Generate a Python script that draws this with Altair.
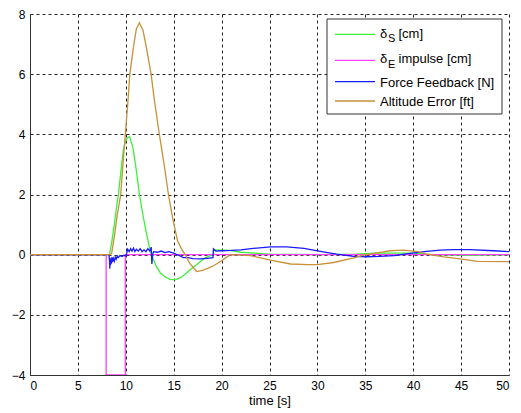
import altair as alt
import pandas as pd

# ---------------- data ----------------
series_names = ["δS [cm]", "δE impulse [cm]", "Force Feedback [N]", "Altitude Error [ft]"]
series_colors = ["#3cf03c", "#ff40ff", "#1a1aff", "#c8913a"]

# delta_S [cm]
ds_t = [0, 8.3, 8.5, 8.8, 9.0, 9.23, 9.5, 9.75, 10.05, 10.4, 10.75, 11.1, 11.42, 11.8, 12.1, 12.47,
        12.8, 13.2, 13.6, 14.0, 14.6, 15.2, 15.8, 16.7, 17.5, 18.2, 18.8, 19.15, 19.17, 20.9, 22,
        25, 30, 34, 36, 40, 42, 46, 50]
ds_v = [0, 0, 0.35, 1.0, 1.5, 2.0, 2.8, 3.5, 3.85, 3.93, 3.55, 2.8, 2.0, 1.3, 0.8, 0.24,
        -0.1, -0.4, -0.6, -0.72, -0.82, -0.83, -0.75, -0.51, -0.3, -0.12, -0.03, 0.0, 0.16, 0.14, 0.08,
        0.02, 0.0, 0.02, 0.05, 0.05, 0.0, -0.02, 0.0]

# delta_E impulse [cm]
de_t = [0, 7.95, 7.95, 9.95, 9.95, 50]
de_v = [0, 0, -4, -4, 0, 0]

# Force feedback [N]
ff_t = [0, 8.25, 8.3, 8.33, 8.36, 8.4, 8.45, 8.5, 8.55, 8.6, 8.7, 8.8, 8.9, 9.0, 9.1, 9.2, 9.4, 9.6,
        9.8, 10.0, 10.1, 10.2, 10.35, 10.5, 10.65, 10.8, 10.95, 11.1, 11.3, 11.5, 11.7, 11.9, 12.1,
        12.3, 12.5, 12.65, 12.72, 12.8, 12.9, 13.3, 13.7, 14.1, 14.5, 15.0, 15.5, 16.0, 16.5, 17.0,
        17.8, 18.5, 19.1, 19.15, 19.4, 20.0, 21, 22, 23.3, 25.1, 26.8, 28.6, 30.3, 32, 33.8, 35.1,
        36.5, 38, 39.7, 41.4, 42.8, 44.2, 45.9, 48.4, 50]
ff_v = [0, 0, -0.2, -0.47, -0.1, -0.35, -0.15, -0.3, -0.08, -0.25, -0.12, -0.22, -0.08, -0.15, -0.05,
        -0.1, -0.03, -0.06, -0.02, -0.04, 0.05, 0.18, 0.1, 0.2, 0.12, 0.22, 0.1, 0.18, 0.12, 0.2, 0.1,
        0.16, 0.1, 0.2, 0.12, 0.25, -0.31, 0.0, 0.1, 0.08, 0.12, 0.07, 0.1, 0.05, -0.02, -0.1, -0.1,
        -0.13, -0.14, -0.12, -0.1, 0.19, 0.12, 0.13, 0.14, 0.16, 0.21, 0.26, 0.26, 0.21, 0.11, 0.02,
        -0.06, -0.07, -0.06, -0.03, 0.04, 0.11, 0.15, 0.17, 0.17, 0.13, 0.1]

# Altitude error [ft]
ae_t = [0, 8.4, 8.53, 8.8, 9.1, 9.47, 9.7, 9.95, 10.2, 10.42, 10.8, 11.1, 11.42, 11.8, 12.2, 12.64,
        13.0, 13.5, 14.0, 14.45, 14.9, 15.4, 15.8, 16.2, 16.7, 17.4, 18.0, 18.6, 19.2, 20.0, 20.9,
        23, 25.1, 27.2, 29, 30, 31.7, 33.8, 35, 35.9, 37.6, 39, 40.5, 41.4, 43.2, 44.9, 46.7, 50]
ae_v = [0, 0, 0.05, 0.6, 1.3, 2.0, 3.0, 4.0, 5.0, 6.0, 6.9, 7.5, 7.71, 7.45, 6.8, 6.0,
        5.1, 4.0, 3.0, 2.0, 1.2, 0.46, 0.2, 0.0, -0.3, -0.56, -0.52, -0.45, -0.36, -0.2, 0.0,
        -0.03, -0.18, -0.31, -0.33, -0.33, -0.26, -0.11, 0.0, 0.04, 0.13, 0.15, 0.1, 0.02, -0.07,
        -0.14, -0.22, -0.23]

x_ticks = list(range(0, 51, 5))
y_ticks = list(range(-4, 9, 2))

FONT = "Liberation Sans"


def frame(t, v, name):
    return pd.DataFrame({"t": t, "v": v, "series": name, "i": list(range(len(t)))})


x_enc = alt.X("t:Q", scale=alt.Scale(domain=[0, 50], nice=False, zero=False),
              axis=alt.Axis(values=x_ticks, title="time [s]", format="d"))
y_enc = alt.Y("v:Q", scale=alt.Scale(domain=[-4, 8], nice=False, zero=False),
              axis=alt.Axis(values=y_ticks, title=None, format="d"))


def line(df, color):
    return alt.Chart(df).mark_line(color=color, strokeWidth=1.3, clip=True).encode(
        x=x_enc, y=y_enc, order="i:Q")


layers = [
    line(frame(ds_t, ds_v, series_names[0]), series_colors[0]),
    line(frame(de_t, de_v, series_names[1]), series_colors[1]),
    line(frame(ff_t, ff_v, series_names[2]), series_colors[2]),
    line(frame(ae_t, ae_v, series_names[3]), series_colors[3]),
]

# ---------------- legend (drawn by hand to allow subscripts) ----------------
one = pd.DataFrame({"k": [0]})
layers.append(alt.Chart(one).mark_rect(fill="white", stroke="#333333", strokeWidth=1).encode(
    x=alt.value(297), x2=alt.value(472), y=alt.value(5), y2=alt.value(100)))

sample_y = [20.3, 46.3, 67.7, 87.0]
for c, yy in zip(series_colors, sample_y):
    layers.append(alt.Chart(one).mark_rule(color=c, strokeWidth=1.3).encode(
        x=alt.value(305), x2=alt.value(345), y=alt.value(yy)))


def txt(s, x, y, size=13):
    return alt.Chart(one).mark_text(align="left", baseline="middle", font=FONT, fontSize=size,
                                    color="black").encode(
        x=alt.value(x), y=alt.value(y), text=alt.value(s))


layers += [
    txt("δ", 350, 19.5), txt("S", 358, 25, 11), txt("[cm]", 368.5, 19.5),
    txt("δ", 350, 45), txt("E", 358, 50.5, 11), txt("impulse [cm]", 368.5, 45),
    txt("Force Feedback [N]", 350, 68.5),
    txt("Altitude Error [ft]", 350, 87.5),
]

chart = alt.layer(*layers).properties(
    width=479, height=361,
    autosize=alt.AutoSizeParams(type="none"),
    padding={"left": 22, "top": 6, "right": 4, "bottom": 34},
).configure_view(stroke=None).configure_axis(
    grid=True, gridColor="#000000", gridDash=[3, 3], gridOpacity=0.85, gridWidth=1,
    domainColor="#333333", domainWidth=1, ticks=False,
    labelFont=FONT, labelFontSize=12, labelColor="#000000",
    titleFont=FONT, titleFontSize=13, titleFontWeight="normal", titleColor="#000000",
).configure_axisX(labelPadding=5, titlePadding=3).configure_axisY(labelPadding=5)

chart.save("out.html", embed_options={"renderer": "svg", "actions": False})
